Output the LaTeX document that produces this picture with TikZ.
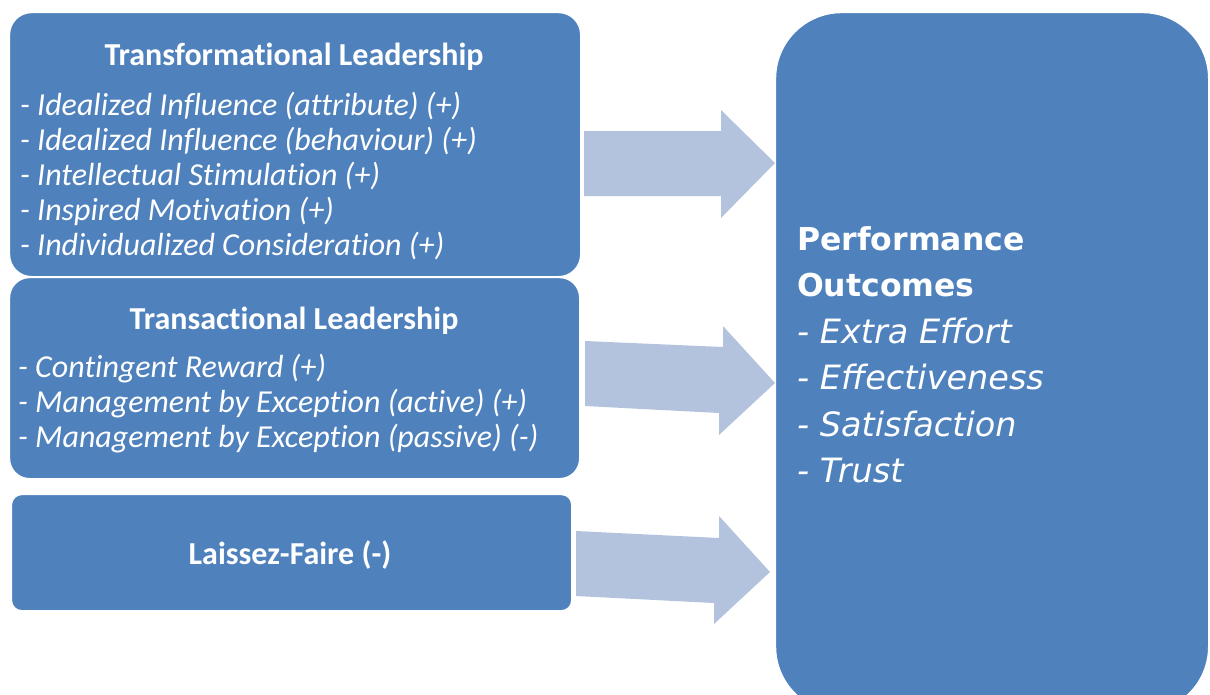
\documentclass[tikz,border=0pt]{standalone}
\usepackage{fontspec}
\setmainfont{Carlito}[Ligatures=NoCommon]
\newfontfamily\outfont{DejaVu Sans}
\definecolor{boxblue}{HTML}{4F81BD}
\definecolor{flowblue}{HTML}{B3C3DE}
\begin{document}
\begin{tikzpicture}[x=1pt,y=-1pt,
  panel/.style={fill=boxblue, draw=white, line width=1.2pt, inner sep=0pt, anchor=north west},
  headtext/.style={text=white, font=\fontsize{32}{38}\selectfont\bfseries, inner sep=0pt, anchor=base},
  itemtext/.style={text=white, font=\fontsize{32}{38}\selectfont\itshape, inner sep=0pt, anchor=base west},
  outhead/.style={text=white, font=\outfont\fontsize{31.5}{38}\selectfont\bfseries, inner sep=0pt, anchor=base west},
  outitem/.style={text=white, font=\outfont\fontsize{33.5}{40}\selectfont\itshape, inner sep=0pt, anchor=base west},
  flow/.style={fill=flowblue}]
\useasboundingbox (0,0) rectangle (1210,694);
\clip (0,0) rectangle (1210,694);

% leadership styles
\node[panel, rounded corners=22pt, minimum width=571pt, minimum height=264pt] (trf) at (9,12) {};
\node[panel, rounded corners=20pt, minimum width=570pt, minimum height=201pt] (trs) at (9,277) {};
\node[panel, rounded corners=10pt, minimum width=560pt, minimum height=116pt] (lf) at (11,494) {};

% outcomes
\node[panel, rounded corners=66pt, minimum width=433pt, minimum height=700pt] (out) at (775,12) {};

% block arrows towards the outcomes
\fill[flow] (584,131) -- (721,131) -- (721,110) -- (775,163) -- (721,218) -- (721,196) -- (584,196) -- cycle;
\fill[flow] (585,341) -- (723,347) -- (723,326) -- (775,383) -- (719,435) -- (719,413) -- (585,406) -- cycle;
\fill[flow] (576,531) -- (719,538) -- (719,516) -- (770,572) -- (714,624) -- (714,603) -- (576,596) -- cycle;

% transformational leadership
\node[headtext] (trfh) at (294,65) {Transformational Leadership};
\node[itemtext] (trf1) at (20,115) {- Idealized Influence (attribute) (+)};
\node[itemtext] (trf2) at (20,150) {- Idealized Influence (behaviour) (+)};
\node[itemtext] (trf3) at (20,185) {- Intellectual Stimulation (+)};
\node[itemtext] (trf4) at (20,220) {- Inspired Motivation (+)};
\node[itemtext] (trf5) at (20,255) {- Individualized Consideration (+)};

% transactional leadership
\node[headtext] (trsh) at (294,329) {Transactional Leadership};
\node[itemtext] (trs1) at (18,377) {- Contingent Reward (+)};
\node[itemtext] (trs2) at (18,412) {- Management by Exception (active) (+)};
\node[itemtext] (trs3) at (18,447) {- Management by Exception (passive) (-)};

% laissez-faire
\node[headtext] (lfh) at (290,564) {Laissez-Faire (-)};

% outcome list
\node[outhead] (o1) at (797,250) {Performance};
\node[outhead] (o2) at (797,296) {Outcomes};
\node[outitem] (o3) at (797,343) {- Extra Effort};
\node[outitem] (o4) at (797,389) {- Effectiveness};
\node[outitem] (o5) at (797,436) {- Satisfaction};
\node[outitem] (o6) at (797,482) {- Trust};
\end{tikzpicture}
\end{document}
